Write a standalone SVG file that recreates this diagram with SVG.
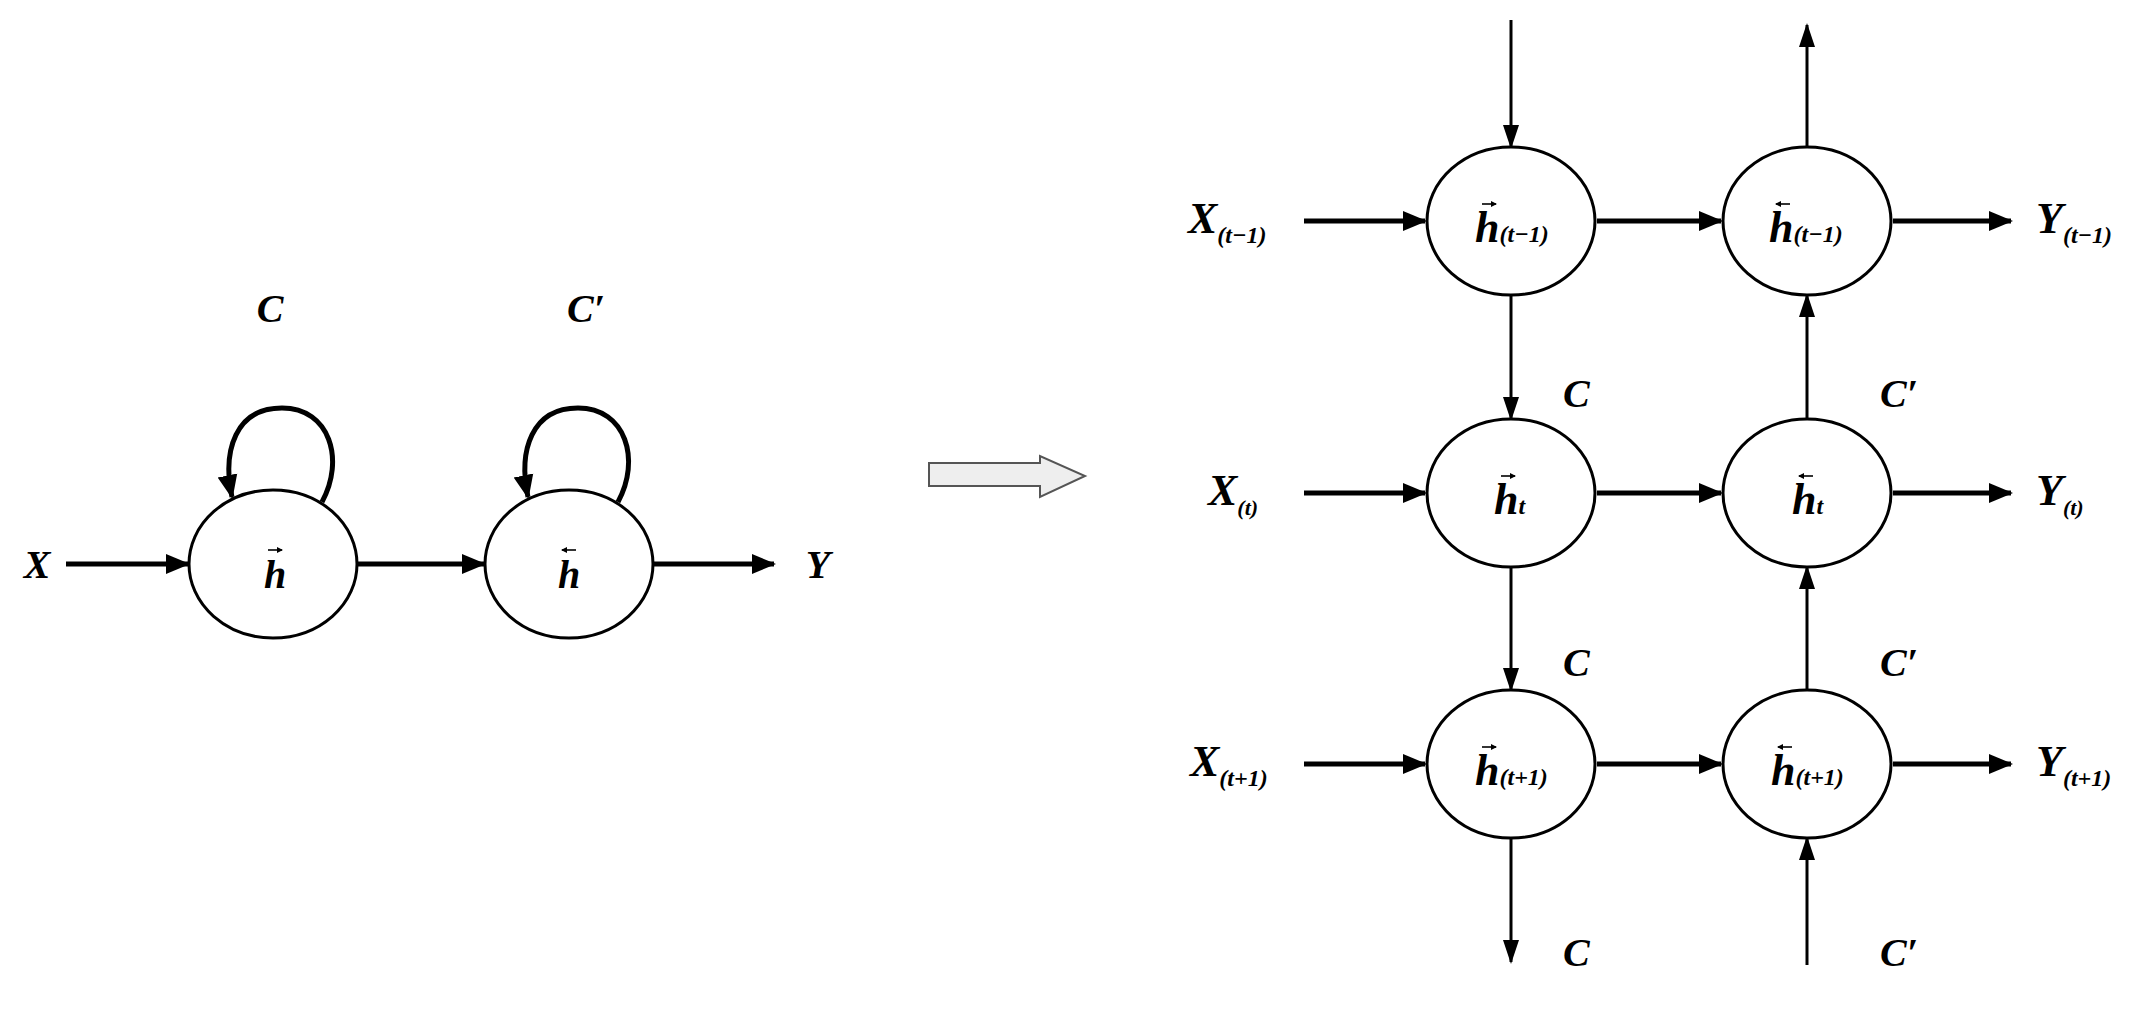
<svg xmlns="http://www.w3.org/2000/svg" width="2148" height="1014" viewBox="0 0 2148 1014">
<style>
.n{fill:#fff;stroke:#000;stroke-width:3}
.t{font-family:"Liberation Serif",serif;font-style:italic;font-weight:bold;fill:#000}
.h{stroke:#000;stroke-width:5;fill:none}
.v{stroke:#000;stroke-width:3;fill:none}
.ar{stroke:#000;stroke-width:1.6;fill:none}
</style>
<defs>
<marker id="a" markerUnits="userSpaceOnUse" markerWidth="24" markerHeight="24" refX="22" refY="12" orient="auto"><path d="M0,2 L24,12 L0,22 Z"/></marker>
<marker id="b" markerUnits="userSpaceOnUse" markerWidth="24" markerHeight="24" refX="22" refY="12" orient="auto"><path d="M0,4 L24,12 L0,20 Z"/></marker>
<marker id="s" markerUnits="userSpaceOnUse" markerWidth="6" markerHeight="6" refX="5" refY="3" orient="auto"><path d="M0,0 L6,3 L0,6 Z"/></marker>
</defs>
<rect width="2148" height="1014" fill="#fff"/>
<g id="connectors">
<line class="h" x1="66" y1="564" x2="188" y2="564" marker-end="url(#a)"/>
<line class="h" x1="356" y1="564" x2="484" y2="564" marker-end="url(#a)"/>
<line class="h" x1="652" y1="564" x2="774" y2="564" marker-end="url(#a)"/>
<path class="h" d="M322,502 C345,460 330,408 282,408 C236,408 222,450 232,497" marker-end="url(#a)"/>
<path class="h" d="M618,502 C641,460 626,408 578,408 C532,408 518,450 528,497" marker-end="url(#a)"/>
<path d="M929,463 H1040 V456 L1085,476 L1040,497 V486 H929 Z" fill="#eee" stroke="#555" stroke-width="2"/>
<line class="h" x1="1304" y1="221" x2="1425" y2="221" marker-end="url(#a)"/>
<line class="h" x1="1304" y1="493" x2="1425" y2="493" marker-end="url(#a)"/>
<line class="h" x1="1304" y1="764" x2="1425" y2="764" marker-end="url(#a)"/>
<line class="h" x1="1597" y1="221" x2="1721" y2="221" marker-end="url(#a)"/>
<line class="h" x1="1597" y1="493" x2="1721" y2="493" marker-end="url(#a)"/>
<line class="h" x1="1597" y1="764" x2="1721" y2="764" marker-end="url(#a)"/>
<line class="h" x1="1893" y1="221" x2="2011" y2="221" marker-end="url(#a)"/>
<line class="h" x1="1893" y1="493" x2="2011" y2="493" marker-end="url(#a)"/>
<line class="h" x1="1893" y1="764" x2="2011" y2="764" marker-end="url(#a)"/>
<line class="v" x1="1511" y1="20" x2="1511" y2="147" marker-end="url(#b)"/>
<line class="v" x1="1511" y1="295" x2="1511" y2="419" marker-end="url(#b)"/>
<line class="v" x1="1511" y1="567" x2="1511" y2="690" marker-end="url(#b)"/>
<line class="v" x1="1511" y1="838" x2="1511" y2="962" marker-end="url(#b)"/>
<line class="v" x1="1807" y1="147" x2="1807" y2="25" marker-end="url(#b)"/>
<line class="v" x1="1807" y1="419" x2="1807" y2="295" marker-end="url(#b)"/>
<line class="v" x1="1807" y1="690" x2="1807" y2="567" marker-end="url(#b)"/>
<line class="v" x1="1807" y1="965" x2="1807" y2="838" marker-end="url(#b)"/>
</g>
<g id="n1"><ellipse class="n" cx="273" cy="564" rx="84" ry="74"/><text class="t" x="275" y="588" font-size="40" text-anchor="middle">h</text><line class="ar" x1="268" y1="550" x2="282" y2="550" marker-end="url(#s)"/></g>
<g id="n2"><ellipse class="n" cx="569" cy="564" rx="84" ry="74"/><text class="t" x="569" y="588" font-size="40" text-anchor="middle">h</text><line class="ar" x1="576" y1="550" x2="562" y2="550" marker-end="url(#s)"/></g>
<g id="labels-left">
<text class="t" x="37" y="578" font-size="40" text-anchor="middle">X</text>
<text class="t" x="818" y="578" font-size="40" text-anchor="middle">Y</text>
<text class="t" x="270" y="322" font-size="40" text-anchor="middle">C</text>
<text class="t" x="586" y="322" font-size="40" text-anchor="middle">C′</text>
</g>
<g id="r1a"><ellipse class="n" cx="1511" cy="221" rx="84" ry="74"/><text class="t" x="1475" y="242" font-size="44">h<tspan font-size="24">(t−1)</tspan></text><line class="ar" x1="1482" y1="204" x2="1496" y2="204" marker-end="url(#s)"/></g>
<g id="r1b"><ellipse class="n" cx="1807" cy="221" rx="84" ry="74"/><text class="t" x="1769" y="242" font-size="44">h<tspan font-size="24">(t−1)</tspan></text><line class="ar" x1="1790" y1="204" x2="1776" y2="204" marker-end="url(#s)"/></g>
<g id="r2a"><ellipse class="n" cx="1511" cy="493" rx="84" ry="74"/><text class="t" x="1494" y="514" font-size="44">h<tspan font-size="24">t</tspan></text><line class="ar" x1="1501" y1="476" x2="1515" y2="476" marker-end="url(#s)"/></g>
<g id="r2b"><ellipse class="n" cx="1807" cy="493" rx="84" ry="74"/><text class="t" x="1792" y="514" font-size="44">h<tspan font-size="24">t</tspan></text><line class="ar" x1="1813" y1="476" x2="1799" y2="476" marker-end="url(#s)"/></g>
<g id="r3a"><ellipse class="n" cx="1511" cy="764" rx="84" ry="74"/><text class="t" x="1475" y="785" font-size="44">h<tspan font-size="24">(t+1)</tspan></text><line class="ar" x1="1482" y1="747" x2="1496" y2="747" marker-end="url(#s)"/></g>
<g id="r3b"><ellipse class="n" cx="1807" cy="764" rx="84" ry="74"/><text class="t" x="1771" y="785" font-size="44">h<tspan font-size="24">(t+1)</tspan></text><line class="ar" x1="1792" y1="747" x2="1778" y2="747" marker-end="url(#s)"/></g>
<g id="labels-right">
<text class="t" x="1188" y="233" font-size="44">X<tspan font-size="24" dy="10">(t−1)</tspan></text>
<text class="t" x="1208" y="505" font-size="44">X<tspan font-size="22" dy="10">(t)</tspan></text>
<text class="t" x="1190" y="776" font-size="44">X<tspan font-size="24" dy="10">(t+1)</tspan></text>
<text class="t" x="2036" y="233" font-size="44">Y<tspan font-size="24" dy="10">(t−1)</tspan></text>
<text class="t" x="2036" y="505" font-size="44">Y<tspan font-size="22" dy="10">(t)</tspan></text>
<text class="t" x="2036" y="776" font-size="44">Y<tspan font-size="24" dy="10">(t+1)</tspan></text>
<text class="t" x="1563" y="407" font-size="40">C</text>
<text class="t" x="1880" y="407" font-size="40">C′</text>
<text class="t" x="1563" y="676" font-size="40">C</text>
<text class="t" x="1880" y="676" font-size="40">C′</text>
<text class="t" x="1563" y="966" font-size="40">C</text>
<text class="t" x="1880" y="966" font-size="40">C′</text>
</g>
</svg>
